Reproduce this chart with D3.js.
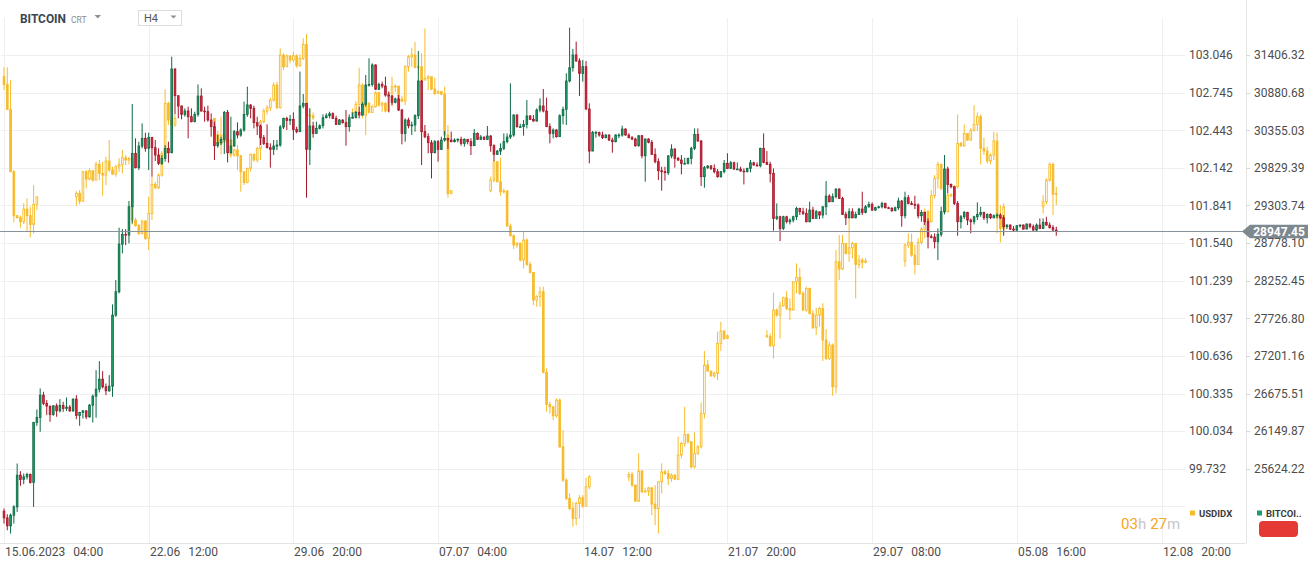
<!DOCTYPE html>
<html>
<head>
<meta charset="utf-8">
<title>BITCOIN vs USDIDX H4</title>
<script src="https://cdn.jsdelivr.net/npm/d3@7/dist/d3.min.js"></script>
<style>
html,body{margin:0;padding:0;background:#ffffff;overflow:hidden;}
svg{display:block;font-family:Roboto,"Noto Sans",Arial,sans-serif;}
</style>
</head>
<body>
<svg id="chart" width="1314" height="569" viewBox="0 0 1314 569"></svg>
<script>
// ---------------- DATA ----------------
// BITCOIN H4 candles (open of each candle = previous close)
const btcOpen0 = 25032;
const btcClose = [
24938,24827,24976,25092,25535,25474,25512,25544,25433,26271,
26341,26653,26537,26500,26383,26504,26434,26509,26467,26486,
26434,26598,26369,26411,26434,26351,26514,26639,26737,26877,
26770,26714,26779,27772,28098,28764,28900,28890,29286,30032,
29832,30134,30242,30102,30256,30111,30009,29892,29962,30102,
30041,31211,30838,30694,30577,30624,30544,30475,30577,30833,
30624,30614,30498,30405,30139,30181,30228,30605,30041,30134,
30335,30288,30358,30577,30708,30661,30461,30414,30251,30172,
30111,30088,30134,30148,30400,30521,30493,30507,30367,30335,
30694,30731,30088,30414,30311,30381,30419,30530,30558,30586,
30521,30437,30498,30461,30405,30530,30535,30605,30568,30717,
30987,30996,31267,30927,30996,30973,30847,30833,30745,30792,
30638,30311,30498,30419,30428,30558,31043,30335,30265,30181,
30041,30195,30088,30218,30242,30218,30195,30218,30228,30172,
30228,30195,30139,30311,30228,30260,30228,30274,30139,30018,
30064,30102,30195,30260,30288,30568,30405,30405,30437,30554,
30507,30484,30638,30694,30624,30405,30311,30358,30265,30558,
30647,31043,31229,31407,31323,31150,31243,30652,30064,30325,
30325,30288,30251,30288,30218,30195,30288,30288,30372,30288,
30251,30232,30139,30279,29999,30232,30186,30018,29915,29790,
29776,29762,29995,30092,29962,29939,29892,29892,29962,30102,
30297,30204,29706,29832,29855,29822,29776,29706,29776,29892,
29822,29901,29813,29813,29785,29776,29822,29901,29869,29859,
30102,29906,29878,29752,29123,29146,28983,29146,29077,29100,
29146,29263,29216,29193,29077,29240,29123,29216,29170,29286,
29435,29356,29426,29533,29403,29179,29132,29216,29132,29179,
29254,29207,29286,29319,29240,29272,29286,29333,29272,29263,
29230,29272,29366,29160,29412,29333,29319,29310,29160,29207,
29077,28867,28862,28797,28900,29216,29813,29598,29566,29333,
29077,29146,29207,29100,29077,29146,29179,29207,29132,29179,
29132,29160,29170,29132,29007,29030,28974,28960,29021,29030,
28974,29044,29007,28960,29030,28983,29067,29030,28993,28960,
28947.45];
const btcHigh = [
25069,24990,24999,25116,25698,25591,25558,25568,25558,26281,
26453,26747,26700,26584,26504,26514,26537,26598,26560,26621,
26514,26607,26653,26420,26444,26444,26528,26663,27003,27129,
26989,26817,26933,27921,28261,28993,28974,28974,29366,30722,
30242,30195,30451,30321,30321,30251,30218,30102,30009,30148,
30195,31383,31220,30722,30698,30661,30684,30661,30614,30996,
30941,30684,30698,30591,30475,30288,30265,30624,30638,30544,
30358,30465,30381,30754,30964,30717,30698,30544,30437,30288,
30437,30172,30218,30218,30428,30530,30544,30568,30605,30405,
31174,30861,30670,30661,30475,30475,30437,30577,30591,30614,
30605,30558,30512,30507,30638,30577,30605,30624,30684,30745,
31127,31360,31290,31276,31020,31034,31104,30894,30847,30810,
30847,30652,30521,30530,30475,30577,31462,31057,30428,30311,
30218,30218,30218,30265,30344,30242,30335,30242,30242,30265,
30242,30232,30242,30372,30325,30288,30265,30414,30288,30158,
30078,30172,30311,30311,31010,30577,30577,30447,30498,30777,
30568,30568,30661,30801,30931,30810,30451,30381,30372,30577,
30684,31150,31789,31490,31593,31360,31337,31323,30731,30344,
30344,30335,30335,30297,30297,30251,30297,30311,30419,30381,
30311,30274,30251,30288,30288,30242,30242,30218,30102,29962,
29845,29845,30009,30158,30102,29981,30009,29971,29971,30125,
30381,30381,30218,29855,29869,29869,29878,29813,29785,29939,
30032,29925,29915,29906,29845,29822,29832,29939,29915,29906,
30111,30311,30064,29915,29822,29333,29160,29160,29160,29123,
29160,29286,29272,29272,29263,29356,29286,29240,29216,29286,
29645,29459,29473,29543,29543,29426,29216,29263,29263,29216,
29272,29496,29310,29356,29347,29286,29300,29356,29342,29286,
29282,29286,29412,29380,29496,29449,29366,29440,29333,29240,
29216,29123,28900,28914,28983,29286,30009,29845,29612,29449,
29366,29170,29226,29216,29123,29160,29347,29286,29216,29193,
29193,29179,29193,29193,29170,29039,29039,29016,29030,29039,
29039,29053,29053,29039,29053,29123,29123,29146,29067,29030,
29007];
const btcLow = [
24859,24766,24719,24859,25022,25386,25409,25474,25418,25092,
26225,26141,26514,26374,26281,26365,26351,26411,26420,26430,
26420,26420,26318,26225,26327,26318,26337,26271,26337,26691,
26747,26653,26700,26630,27748,28075,28634,28750,28774,29053,
29822,29799,30102,30055,29799,29706,29925,29869,29869,29915,
29901,30032,30577,30521,30507,30544,30242,30465,30465,30544,
30614,30475,30475,30265,29939,30111,30148,30023,29906,30032,
30125,30242,30265,30335,30544,30521,30381,30288,30148,30148,
30102,29832,30009,30078,30125,30372,30358,30428,30218,30311,
30335,30661,29412,29869,30251,30335,30367,30381,30521,30521,
30512,30428,30428,30447,30139,30335,30521,30521,30521,30558,
30684,30964,30964,30917,30917,30941,30824,30605,30708,30731,
30624,30158,30195,30381,30288,30335,30512,29869,30242,30032,
29682,30032,29915,30078,30195,30092,30186,30186,30186,30139,
30125,30158,30009,30139,30218,30218,30218,30218,30055,29925,
30009,30009,30078,30172,30232,30265,30391,30391,30279,30381,
30498,30475,30475,30605,30605,30405,30172,30242,30251,30265,
30437,30428,31024,31174,31313,30833,31034,30638,29892,30242,
30251,30265,30232,30242,30204,30041,30186,30242,30265,30279,
30242,30218,30125,30125,29962,29636,30172,30009,29892,29659,
29510,29650,29729,29962,29832,29925,29738,29878,29878,29878,
30078,30195,29575,29552,29813,29799,29752,29692,29692,29752,
29813,29813,29799,29799,29776,29598,29766,29766,29859,29845,
29836,29892,29869,29626,28951,29100,28806,28960,29053,29039,
29067,29100,29170,29170,29067,29067,29114,29146,29114,29123,
29170,29347,29356,29403,29393,29170,29030,29123,29123,29123,
29179,29170,29193,29272,29226,29226,29263,29263,29263,29254,
29216,29226,29240,29007,29123,29319,29310,29254,29123,29077,
29030,28704,28844,28704,28541,28867,29179,29473,29543,29310,
28881,28983,29114,29030,28914,29039,29100,29146,29100,29053,
29114,29123,29123,29114,28881,28974,28960,28946,28946,28993,
28965,28974,28983,28951,28937,28974,28974,29021,28983,28951,
28881];

// USDIDX H4 candles: trading sessions (bar index where each week starts, number of bars)
const usdSessionStart  = [0, 22, 64, 106, 148, 190, 232, 274, 316];
const usdSessionLength = [11, 31, 31, 31, 31, 31, 31, 31, 5];
const usdOpen0 = 102.872;
const usdClose = [
102.811,102.610,102.111,101.759,101.743,101.711,101.812,101.759,101.689,101.850,101.911,
101.938,101.876,102.111,102.052,102.119,102.044,102.170,102.098,102.084,102.197,102.125,102.093,102.151,102.170,102.223,102.205,102.218,101.724,101.679,101.617,101.716,101.577,101.777,102.010,101.983,102.084,102.258,102.659,102.525,102.485,102.538,
102.410,102.338,102.405,102.351,102.365,102.245,102.285,102.239,102.111,102.026,102.138,102.250,102.205,102.298,102.512,102.597,102.624,102.685,102.805,102.624,103.046,102.952,103.038,103.006,103.040,102.960,103.019,103.131,102.565,102.560,102.544,
102.586,102.651,102.805,102.565,102.659,102.586,102.632,102.744,102.645,102.659,102.597,102.739,102.792,102.797,102.693,102.677,102.952,103.032,103.046,102.947,102.952,102.845,102.859,102.872,102.773,102.739,102.752,102.733,102.405,101.938,101.959,
102.044,102.191,102.031,101.951,101.956,101.676,101.599,101.524,101.537,101.404,101.564,101.369,101.305,101.083,101.110,101.150,100.504,100.248,100.229,100.157,100.282,99.908,99.641,99.495,99.414,99.334,99.455,99.500,99.433,99.588,99.668,
99.687,99.601,99.473,99.714,99.548,99.553,99.580,99.449,99.414,99.628,99.708,99.695,99.655,99.681,99.649,99.842,99.935,100.007,99.948,99.748,99.855,99.908,100.175,100.563,100.515,100.477,100.496,100.736,100.835,100.776,100.798,
100.790,100.717,101.003,100.963,101.038,101.102,101.016,101.003,101.230,101.265,101.137,101.003,101.177,100.976,100.862,100.963,101.016,100.763,100.616,100.723,100.389,101.390,101.332,101.537,101.457,101.502,101.537,101.369,101.404,101.385,101.396,
101.524,101.545,101.444,101.369,101.545,101.652,101.791,101.711,101.919,102.058,102.170,101.978,101.791,101.924,101.919,101.991,102.338,102.319,102.418,102.365,102.445,102.490,102.552,102.298,102.277,102.197,102.245,102.357,101.743,101.657,101.831,
101.871,102.044,102.170,101.930,101.938];
const usdHigh = [
102.947,102.947,102.845,102.125,101.764,101.759,101.858,101.898,101.831,102.004,101.911,
101.956,101.964,102.117,102.125,102.138,102.119,102.191,102.205,102.191,102.231,102.365,102.151,102.165,102.218,102.285,102.245,102.231,102.231,101.743,101.692,101.724,101.724,101.911,102.071,102.031,102.098,102.277,102.771,102.672,102.552,102.565,
102.418,102.437,102.552,102.405,102.378,102.370,102.298,102.325,102.245,102.117,102.143,102.258,102.258,102.311,102.525,102.618,102.645,102.704,102.827,102.832,103.099,103.059,103.051,103.046,103.072,103.051,103.051,103.179,103.214,102.618,102.586,
102.618,102.677,102.944,102.819,102.677,102.667,102.645,102.757,102.752,102.672,102.667,102.752,102.872,102.811,102.792,102.720,102.966,103.046,103.104,103.152,102.966,103.059,103.259,102.885,102.832,102.864,102.765,102.757,102.792,102.485,101.964,
102.071,102.205,102.197,102.223,101.978,101.964,101.697,101.609,101.550,101.545,101.631,101.577,101.390,101.289,101.123,101.190,101.190,100.536,100.269,100.189,100.296,100.296,100.042,99.655,99.535,99.468,99.468,99.521,99.521,99.660,99.681,
99.708,99.708,99.607,99.855,99.722,99.580,99.588,99.527,99.601,99.628,99.775,99.722,99.722,99.695,99.687,99.989,99.948,100.229,100.015,99.954,100.023,99.922,100.264,100.675,100.603,100.515,100.509,100.830,100.910,100.843,100.808,
100.843,100.816,101.142,101.016,101.070,101.110,101.155,101.097,101.230,101.377,101.342,101.155,101.190,101.182,101.003,101.022,101.030,101.057,100.851,100.749,100.736,101.484,101.604,101.604,101.510,101.764,101.550,101.537,101.444,101.422,101.417,
101.537,101.617,101.617,101.524,101.577,101.671,101.817,101.804,101.964,102.084,102.191,102.178,101.983,101.938,101.938,102.004,102.570,102.351,102.490,102.405,102.458,102.645,102.586,102.570,102.384,102.311,102.258,102.432,102.426,101.844,101.858,
101.924,102.058,102.186,102.186,101.991];
const usdLow = [
102.765,102.605,102.111,101.705,101.737,101.663,101.692,101.631,101.585,101.617,101.804,
101.839,101.850,101.871,101.978,102.044,102.031,102.044,102.044,101.919,102.004,102.111,102.084,102.071,102.111,102.098,102.165,102.170,101.689,101.671,101.604,101.609,101.564,101.484,101.724,101.972,101.972,102.071,102.245,102.485,102.472,102.472,
102.365,102.319,102.250,102.338,102.338,102.223,102.231,102.125,101.951,102.004,102.018,102.111,102.191,102.186,102.205,102.498,102.570,102.597,102.672,102.613,102.618,102.926,102.952,102.979,102.992,102.944,102.952,103.006,102.544,102.472,102.525,
102.578,102.538,102.565,102.538,102.405,102.578,102.592,102.624,102.632,102.592,102.586,102.632,102.632,102.752,102.685,102.667,102.645,102.912,102.952,102.939,102.926,102.832,102.845,102.765,102.765,102.725,102.731,102.725,102.392,101.903,101.930,
101.946,102.026,102.026,101.919,101.938,101.671,101.591,101.492,101.502,101.390,101.337,101.358,101.297,101.043,101.030,101.030,100.496,100.189,100.175,100.122,100.141,99.900,99.628,99.481,99.401,99.268,99.281,99.334,99.420,99.468,99.569,
99.633,99.588,99.468,99.468,99.535,99.543,99.516,99.361,99.281,99.214,99.535,99.681,99.601,99.628,99.641,99.641,99.815,99.908,99.935,99.735,99.735,99.842,99.895,100.135,100.509,100.469,100.461,100.442,100.675,100.763,100.771,
100.782,100.709,100.616,100.950,100.776,101.030,101.003,100.923,101.003,101.137,101.123,100.995,100.990,100.968,100.851,100.803,100.870,100.595,100.603,100.603,100.317,100.336,101.243,101.324,101.449,101.390,101.417,101.097,101.337,101.337,101.377,
101.350,101.502,101.430,101.289,101.364,101.529,101.577,101.697,101.705,101.898,101.978,101.964,101.777,101.785,101.911,101.911,101.978,102.311,102.311,102.357,102.357,102.432,102.437,102.170,102.245,102.178,102.170,102.205,101.617,101.545,101.617,
101.777,101.850,102.031,101.764,101.844];

// Axes
const usdTicks = [103.046,102.745,102.443,102.142,101.841,101.540,101.239,100.937,100.636,100.335,100.034,99.732];
const usdExtraGrid = [99.431];
const btcTicks = [31406.32,30880.68,30355.03,29829.39,29303.74,28778.10,28252.45,27726.80,27201.16,26675.51,26149.87,25624.22];
const btcTickLabels = ["31406.32","30880.68","30355.03","29829.39","29303.74","28778.10","28252.45","27726.80","27201.16","26675.51","26149.87","25624.22"];
const dateTickBars  = [0, 44, 88, 132, 176, 220, 264, 308, 352];
const dateTickDates = ["15.06.2023","22.06","29.06","07.07","14.07","21.07","29.07","05.08","12.08"];
const dateTickTimes = ["04:00","12:00","20:00","04:00","12:00","20:00","08:00","16:00","20:00"];
const lastPrice = 28947.45;

// ---------------- CHART ----------------
const COL = {
  grid: "#efefef", axisLine: "#e4e4e4", text: "#4d4d4d",
  up: "#1f9c69", upLine: "#0e6a44", down: "#e2283c", downLine: "#a3172a",
  usd: "#f7bb2a", price: "#88929a"
};
const svg = d3.select("#chart");
svg.append("rect").attr("width", 1314).attr("height", 569).attr("fill", "#fff");

const x = d3.scaleLinear().domain([0, 352]).range([4, 1161.5]);
const yUsd = d3.scaleLinear().domain([99.732, 103.046]).range([468.8, 55]);
const yBtc = d3.scaleLinear().domain([25624.22, 31406.32]).range([468.8, 55]);

// grid
const grid = svg.append("g");
grid.selectAll(".hg").data(usdTicks.concat(usdExtraGrid)).join("line")
  .attr("x1", 1).attr("x2", 1185)
  .attr("y1", d => Math.round(yUsd(d)) + 0.5).attr("y2", d => Math.round(yUsd(d)) + 0.5)
  .attr("stroke", COL.grid).attr("stroke-width", 1);
grid.selectAll(".vg").data(dateTickBars).join("line")
  .attr("x1", d => Math.round(x(d)) + 0.5).attr("x2", d => Math.round(x(d)) + 0.5)
  .attr("y1", 18).attr("y2", 543)
  .attr("stroke", COL.grid).attr("stroke-width", 1);
// axis frame lines
svg.append("line").attr("x1", 0).attr("x2", 1246).attr("y1", 543.5).attr("y2", 543.5)
  .attr("stroke", COL.axisLine);
svg.append("line").attr("x1", 1246.5).attr("x2", 1246.5).attr("y1", 0).attr("y2", 543)
  .attr("stroke", COL.axisLine);

// ---- candles ----
const bodyW = 2.3;
function candleData(closes, highs, lows, open0, indexOf) {
  const out = [];
  let prev = open0;
  closes.forEach((c, k) => {
    out.push({ i: indexOf(k), o: prev, c: c, h: highs[k], l: lows[k] });
    prev = c;
  });
  return out;
}
const usdIndex = [];
usdSessionStart.forEach((s, j) => { for (let n = 0; n < usdSessionLength[j]; n++) usdIndex.push(s + n); });
const usdData = candleData(usdClose, usdHigh, usdLow, usdOpen0, k => usdIndex[k]);
const btcData = candleData(btcClose, btcHigh, btcLow, btcOpen0, k => k);

// USDIDX (drawn underneath)
const gU = svg.append("g");
gU.selectAll("line").data(usdData).join("line")
  .attr("x1", d => x(d.i)).attr("x2", d => x(d.i))
  .attr("y1", d => yUsd(d.h)).attr("y2", d => yUsd(d.l))
  .attr("stroke", COL.usd).attr("stroke-width", 1);
gU.selectAll("rect").data(usdData).join("rect")
  .attr("x", d => x(d.i) - bodyW / 2 + 0.3).attr("width", bodyW - 0.6)
  .attr("y", d => yUsd(Math.max(d.o, d.c)))
  .attr("height", d => Math.max(0.8, Math.abs(yUsd(d.o) - yUsd(d.c))))
  .attr("fill", d => d.c >= d.o ? "#ffffff" : COL.usd)
  .attr("stroke", COL.usd).attr("stroke-width", 0.9);

// BITCOIN
const gB = svg.append("g");
gB.selectAll("line").data(btcData).join("line")
  .attr("x1", d => x(d.i)).attr("x2", d => x(d.i))
  .attr("y1", d => yBtc(d.h)).attr("y2", d => yBtc(d.l))
  .attr("stroke", d => d.c >= d.o ? COL.upLine : COL.downLine).attr("stroke-width", 1);
gB.selectAll("rect").data(btcData).join("rect")
  .attr("x", d => x(d.i) - bodyW / 2 + 0.3).attr("width", bodyW - 0.6)
  .attr("y", d => yBtc(Math.max(d.o, d.c)))
  .attr("height", d => Math.max(0.8, Math.abs(yBtc(d.o) - yBtc(d.c))))
  .attr("fill", d => d.c >= d.o ? COL.up : COL.down)
  .attr("stroke", d => d.c >= d.o ? COL.upLine : COL.downLine).attr("stroke-width", 0.8);

// current price line
const py = Math.round(yBtc(lastPrice)) + 0.5;
svg.append("line").attr("x1", 0).attr("x2", 1243).attr("y1", py).attr("y2", py)
  .attr("stroke", COL.price).attr("stroke-width", 1);

// ---- axis labels ----
const fmtUsd = d3.format(".3f");
svg.append("g").selectAll("text").data(usdTicks).join("text")
  .attr("x", 1189).attr("y", d => yUsd(d) + 4.3)
  .attr("font-size", 12).attr("fill", COL.text)
  .text(d => fmtUsd(d));
const gBt = svg.append("g");
gBt.selectAll("line").data(btcTicks).join("line")
  .attr("x1", 1246).attr("x2", 1250)
  .attr("y1", d => Math.round(yBtc(d)) + 0.5).attr("y2", d => Math.round(yBtc(d)) + 0.5)
  .attr("stroke", "#d8d8d8");
gBt.selectAll("text").data(btcTicks).join("text")
  .attr("x", 1254).attr("y", d => yBtc(d) + 4.3)
  .attr("font-size", 12).attr("fill", COL.text)
  .text((d, k) => btcTickLabels[k]);

// price tag
svg.append("path")
  .attr("d", `M1242,${py} L1250,${py - 6.8} L1308,${py - 6.8} L1308,${py + 6.8} L1250,${py + 6.8} Z`)
  .attr("fill", "#7e888f");
svg.append("text").attr("x", 1279).attr("y", py + 4.3).attr("text-anchor", "middle")
  .attr("font-size", 12).attr("font-weight", 700).attr("fill", "#fff")
  .text(d3.format(".2f")(lastPrice));

// date labels
const gD = svg.append("g");
dateTickBars.forEach((b, k) => {
  const t = gD.append("text").attr("x", Math.round(x(b)) + 1).attr("y", 556)
    .attr("font-size", 12).attr("fill", COL.text);
  t.append("tspan").text(dateTickDates[k]);
  t.append("tspan").attr("dx", 8).text(dateTickTimes[k]);
});

// ---- header ----
svg.append("text").attr("x", 20).attr("y", 23).attr("font-size", 12).attr("font-weight", 700)
  .attr("textLength", 46).attr("lengthAdjust", "spacingAndGlyphs")
  .attr("fill", "#3b4652").text("BITCOIN");
svg.append("text").attr("x", 71).attr("y", 22.5).attr("font-size", 8.5)
  .attr("fill", "#8c8c8c").text("CRT");
svg.append("path").attr("d", "M94.5,15 L101,15 L97.75,18.5 Z").attr("fill", "#8f8f8f");
svg.append("rect").attr("x", 138.5).attr("y", 10.5).attr("width", 43).attr("height", 15)
  .attr("fill", "#fff").attr("stroke", "#dedede");
svg.append("text").attr("x", 144).attr("y", 22).attr("font-size", 11)
  .attr("fill", "#555").text("H4");
svg.append("path").attr("d", "M170.5,15.5 L176.5,15.5 L173.5,18.5 Z").attr("fill", "#8f8f8f");

// ---- legend / footer ----
svg.append("rect").attr("x", 1190).attr("y", 510.5).attr("width", 5).attr("height", 5).attr("fill", COL.usd);
svg.append("text").attr("x", 1199).attr("y", 516.5).attr("font-size", 9.5).attr("font-weight", 700)
  .attr("fill", "#3a3a3a").text("USDIDX");
svg.append("rect").attr("x", 1257).attr("y", 510.5).attr("width", 5).attr("height", 5).attr("fill", COL.up);
svg.append("text").attr("x", 1266).attr("y", 516.5).attr("font-size", 9.5).attr("font-weight", 700)
  .attr("fill", "#3a3a3a").text("BITCOI..");
svg.append("rect").attr("x", 1259).attr("y", 521).attr("width", 39).attr("height", 16).attr("rx", 4)
  .attr("fill", "#e53935");

const cd = svg.append("text").attr("x", 1121).attr("y", 529).attr("font-size", 15);
cd.append("tspan").attr("fill", "#f5a623").text("03");
cd.append("tspan").attr("fill", "#c6c6c6").text("h");
cd.append("tspan").attr("fill", "#f5a623").attr("dx", 4).text("27");
cd.append("tspan").attr("fill", "#c6c6c6").text("m");
</script>
</body>
</html>
